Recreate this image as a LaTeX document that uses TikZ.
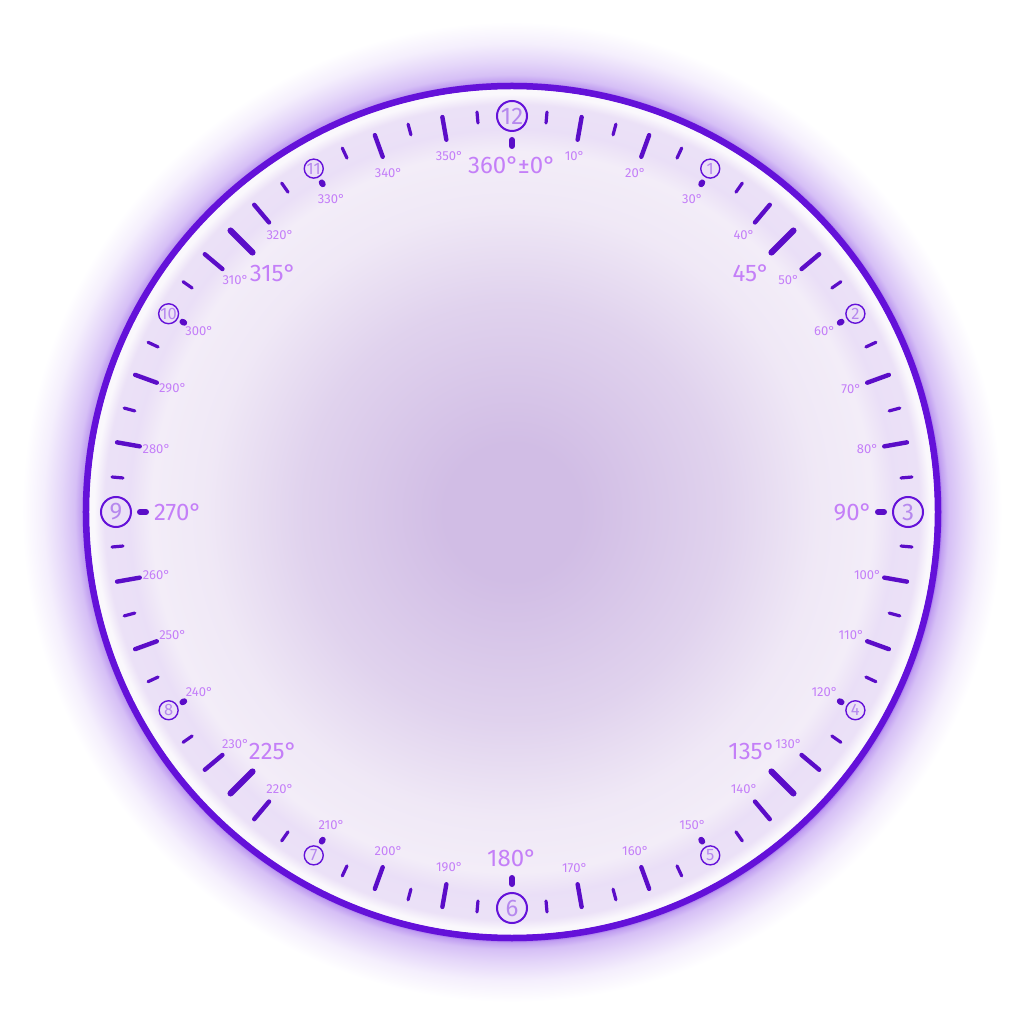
\documentclass[tikz,border=0pt]{standalone}
\usepackage{fontspec}
\setmainfont{Fira Sans}
\usetikzlibrary{calc}
\definecolor{ring}{HTML}{6411D9}
\definecolor{tick}{HTML}{5B0DC8}
\definecolor{lab}{HTML}{C47FF8}
\definecolor{numtxt}{HTML}{B688EE}
\definecolor{dialin}{HTML}{D1BDE5}
\definecolor{dialout}{HTML}{F3EDF8}
\definecolor{glow}{HTML}{B48BEE}
\definecolor{glowdark}{HTML}{7A2FE6}
% 25bp of a shading is the radius of the shaded circle
\pgfdeclareradialshading{halo}{\pgfpoint{0bp}{0bp}}{color(0bp)=(glowdark);
  color(21.7bp)=(glowdark); color(21.95bp)=(glow!85!white); color(22.3bp)=(glow!55!white);
  color(23bp)=(glow!35!white); color(23.9bp)=(glow!14!white); color(25bp)=(white);
  color(50bp)=(white)}
\pgfdeclareradialshading{face}{\pgfpoint{0bp}{0bp}}{color(0bp)=(dialin);
  color(4bp)=(dialin); color(12.5bp)=(dialin!55!dialout); color(18bp)=(dialout!90!dialin);
  color(21.3bp)=(dialout); color(22.6bp)=(dialout!86!glow); color(24.1bp)=(dialout!88!glow);
  color(24.7bp)=(dialout!40!white); color(25bp)=(dialout!40!white); color(50bp)=(white)}
\tikzset{
  tickshort/.style = {draw=tick, line width=3.2pt, line cap=round},
  ticklong/.style  = {draw=tick, line width=4.4pt, line cap=round},
  tickmajor/.style = {draw=tick, line width=6.2pt, line cap=round},
  stub/.style      = {draw=tick, line width=6pt, line cap=round},
  numbig/.style    = {circle, draw=ring, line width=2pt, minimum size=30pt,
                      inner sep=0pt, text=numtxt, font=\fontsize{24}{24}\selectfont},
  numsmall/.style  = {circle, draw=ring, line width=1.4pt, minimum size=19pt,
                      inner sep=0pt, text=numtxt, font=\fontsize{16.5}{16.5}\selectfont},
  deglabel/.style  = {text=lab, inner sep=0pt, font=\fontsize{13}{13}\selectfont},
  biglabel/.style  = {text=lab, inner sep=0pt, font=\fontsize{24}{24}\selectfont},
}

\begin{document}
\begin{tikzpicture}[x=1pt,y=1pt]
    \useasboundingbox (-512,-512) rectangle (512,512);
    \fill[white] (-512,-512) rectangle (512,512);
    % glow and dial face
    \shade[shading=halo] (0,0) circle (490);
    \shade[shading=face] (0,0) circle (423);
    \draw[ring,line width=6.5pt] (0,0) circle (426);
    % ticks every 5 degrees
    \foreach \a in {0,5,...,355}{
      \pgfmathtruncatemacro\tenth{mod(\a,10)}
      \pgfmathtruncatemacro\third{mod(\a,30)}
      \pgfmathtruncatemacro\eighth{mod(\a,45)}
      \pgfmathtruncatemacro\fourth{mod(\a,90)}
      \ifnum\fourth=0
        \draw[stub] (90-\a:366) -- (90-\a:372);
      \else\ifnum\third=0
        \draw[stub] (90-\a:378.5) -- (90-\a:380.5);
      \else\ifnum\eighth=0
        \draw[tickmajor] (90-\a:367) -- (90-\a:398);
      \else\ifnum\tenth=0
        \draw[ticklong] (90-\a:378) -- (90-\a:401);
      \else
        \draw[tickshort] (90-\a:390.5) -- (90-\a:401.5);
      \fi\fi\fi\fi}
    % small degree labels
    \foreach \a in {10,20,...,350}{
      \pgfmathtruncatemacro\fourth{mod(\a,90)}
      \ifnum\fourth>0
        \node[deglabel] (d\a) at (90-\a:361) {\a°};
      \fi}
    % large degree labels
    \node[biglabel] (b0) at (90:347) {360°{\kern-1pt}±0°};
    \foreach \a/\r in {45/338, 90/341, 135/339, 180/346, 225/338, 270/334, 315/338}{
      \node[biglabel] (b\a) at (90-\a:\r) {\a°};}
    % clock numerals
    \foreach \h in {1,...,12}{
      \pgfmathtruncatemacro\ang{90-30*\h}
      \pgfmathtruncatemacro\card{mod(\h,3)}
      \ifnum\card=0
        \node[numbig] (h\h) at (\ang:396) {\h};
      \else
        \node[numsmall] (h\h) at (\ang:396.5) {\h};
      \fi}
\end{tikzpicture}
\end{document}
